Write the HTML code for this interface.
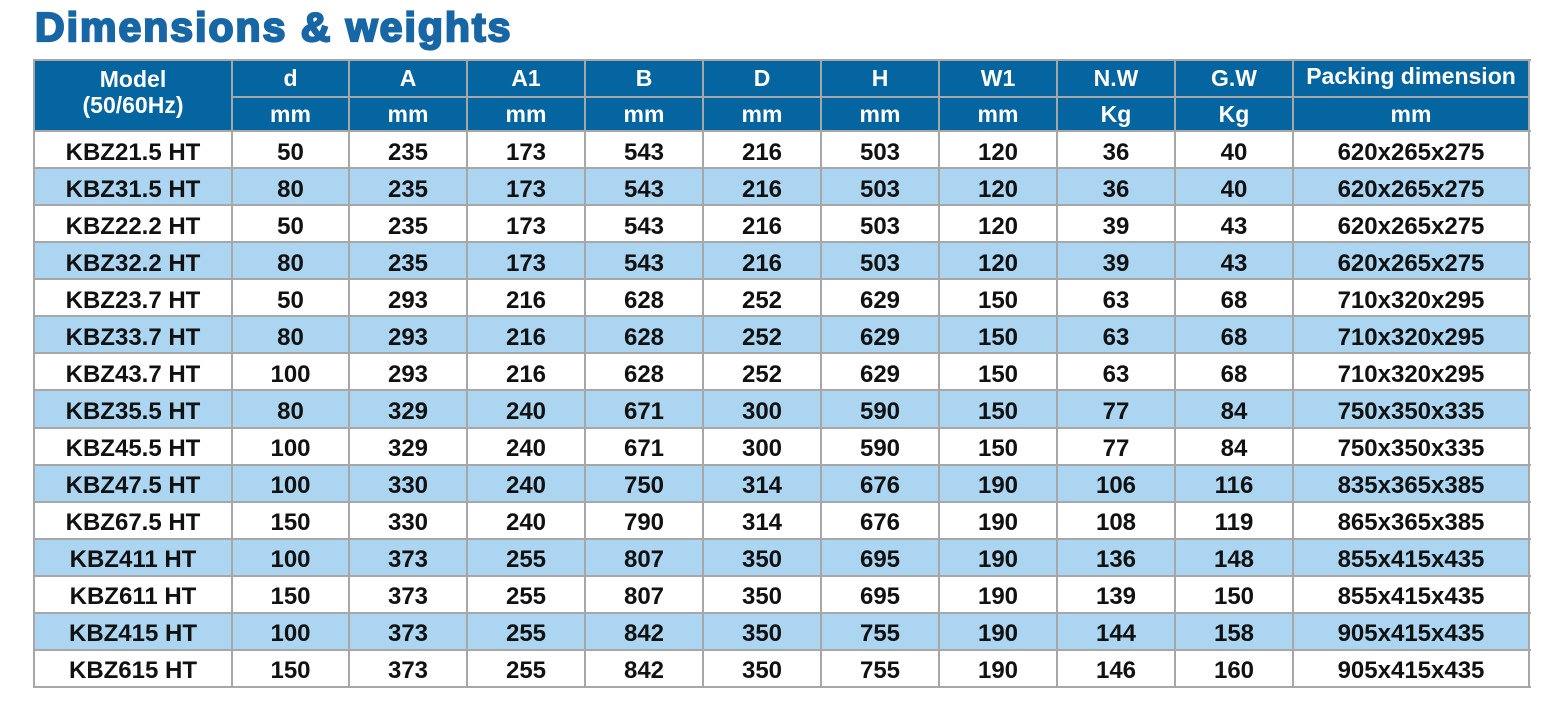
<!DOCTYPE html>
<html><head><meta charset="utf-8">
<style>
html,body{margin:0;padding:0;background:#fff;}
body{width:1551px;height:710px;position:relative;overflow:hidden;font-family:"Liberation Sans",Arial,sans-serif;}
.title{position:absolute;left:35px;top:7px;font-size:41px;line-height:41px;font-weight:bold;color:#1766a6;letter-spacing:2.0px;-webkit-text-stroke:2.2px #1766a6;white-space:nowrap;}
.bg{position:absolute;}
.hl{position:absolute;height:2px;background:#a7a7a7;}
.vl{position:absolute;width:2px;background:#a7a7a7;}
.r{position:absolute;left:34px;width:1495px;display:flex;}
.r span{display:block;text-align:center;font-weight:bold;white-space:nowrap;}
.d{height:37px;line-height:37px;font-size:24px;color:#111;}
.d span{position:relative;top:2.5px;}
.h{color:#fff;font-size:23px;}
.c0{width:198px}.c1{width:117px}.c{width:118px}.cp{width:236px}
</style></head><body>
<div class="title">Dimensions &amp; weights</div>

<!-- backgrounds -->
<div class="bg" style="left:34px;top:60px;width:1495px;height:71px;background:#0565a1;"></div>
<div class="bg" style="left:34px;top:168.07px;width:1495px;height:37.07px;background:#abd5f0;"></div>
<div class="bg" style="left:34px;top:242.21px;width:1495px;height:37.07px;background:#abd5f0;"></div>
<div class="bg" style="left:34px;top:316.35px;width:1495px;height:37.07px;background:#abd5f0;"></div>
<div class="bg" style="left:34px;top:390.49px;width:1495px;height:37.07px;background:#abd5f0;"></div>
<div class="bg" style="left:34px;top:464.63px;width:1495px;height:37.07px;background:#abd5f0;"></div>
<div class="bg" style="left:34px;top:538.77px;width:1495px;height:37.07px;background:#abd5f0;"></div>
<div class="bg" style="left:34px;top:612.91px;width:1495px;height:37.07px;background:#abd5f0;"></div>

<!-- header text -->
<div class="r h" style="top:60px;height:37px;line-height:37px;">
<span class="c0"></span><span class="c1">d</span><span class="c">A</span><span class="c">A1</span><span class="c">B</span><span class="c">D</span><span class="c">H</span><span class="c">W1</span><span class="c">N.W</span><span class="c">G.W</span><span class="cp" style="position:relative;top:-2px;">Packing dimension</span>
</div>
<div class="r h" style="top:97px;height:34px;line-height:34px;">
<span class="c0"></span><span class="c1">mm</span><span class="c">mm</span><span class="c">mm</span><span class="c">mm</span><span class="c">mm</span><span class="c">mm</span><span class="c">mm</span><span class="c">Kg</span><span class="c">Kg</span><span class="cp">mm</span>
</div>
<div class="r h" style="top:64px;height:30px;line-height:30px;"><span class="c0">Model</span></div>
<div class="r h" style="top:90px;height:30px;line-height:30px;"><span class="c0">(50/60Hz)</span></div>

<!-- data rows -->
<div class="r d" style="top:131px"><span class="c0">KBZ21.5 HT</span><span class="c1">50</span><span class="c">235</span><span class="c">173</span><span class="c">543</span><span class="c">216</span><span class="c">503</span><span class="c">120</span><span class="c">36</span><span class="c">40</span><span class="cp">620x265x275</span></div>
<div class="r d" style="top:168.07px"><span class="c0">KBZ31.5 HT</span><span class="c1">80</span><span class="c">235</span><span class="c">173</span><span class="c">543</span><span class="c">216</span><span class="c">503</span><span class="c">120</span><span class="c">36</span><span class="c">40</span><span class="cp">620x265x275</span></div>
<div class="r d" style="top:205.14px"><span class="c0">KBZ22.2 HT</span><span class="c1">50</span><span class="c">235</span><span class="c">173</span><span class="c">543</span><span class="c">216</span><span class="c">503</span><span class="c">120</span><span class="c">39</span><span class="c">43</span><span class="cp">620x265x275</span></div>
<div class="r d" style="top:242.21px"><span class="c0">KBZ32.2 HT</span><span class="c1">80</span><span class="c">235</span><span class="c">173</span><span class="c">543</span><span class="c">216</span><span class="c">503</span><span class="c">120</span><span class="c">39</span><span class="c">43</span><span class="cp">620x265x275</span></div>
<div class="r d" style="top:279.28px"><span class="c0">KBZ23.7 HT</span><span class="c1">50</span><span class="c">293</span><span class="c">216</span><span class="c">628</span><span class="c">252</span><span class="c">629</span><span class="c">150</span><span class="c">63</span><span class="c">68</span><span class="cp">710x320x295</span></div>
<div class="r d" style="top:316.35px"><span class="c0">KBZ33.7 HT</span><span class="c1">80</span><span class="c">293</span><span class="c">216</span><span class="c">628</span><span class="c">252</span><span class="c">629</span><span class="c">150</span><span class="c">63</span><span class="c">68</span><span class="cp">710x320x295</span></div>
<div class="r d" style="top:353.42px"><span class="c0">KBZ43.7 HT</span><span class="c1">100</span><span class="c">293</span><span class="c">216</span><span class="c">628</span><span class="c">252</span><span class="c">629</span><span class="c">150</span><span class="c">63</span><span class="c">68</span><span class="cp">710x320x295</span></div>
<div class="r d" style="top:390.49px"><span class="c0">KBZ35.5 HT</span><span class="c1">80</span><span class="c">329</span><span class="c">240</span><span class="c">671</span><span class="c">300</span><span class="c">590</span><span class="c">150</span><span class="c">77</span><span class="c">84</span><span class="cp">750x350x335</span></div>
<div class="r d" style="top:427.56px"><span class="c0">KBZ45.5 HT</span><span class="c1">100</span><span class="c">329</span><span class="c">240</span><span class="c">671</span><span class="c">300</span><span class="c">590</span><span class="c">150</span><span class="c">77</span><span class="c">84</span><span class="cp">750x350x335</span></div>
<div class="r d" style="top:464.63px"><span class="c0">KBZ47.5 HT</span><span class="c1">100</span><span class="c">330</span><span class="c">240</span><span class="c">750</span><span class="c">314</span><span class="c">676</span><span class="c">190</span><span class="c">106</span><span class="c">116</span><span class="cp">835x365x385</span></div>
<div class="r d" style="top:501.7px"><span class="c0">KBZ67.5 HT</span><span class="c1">150</span><span class="c">330</span><span class="c">240</span><span class="c">790</span><span class="c">314</span><span class="c">676</span><span class="c">190</span><span class="c">108</span><span class="c">119</span><span class="cp">865x365x385</span></div>
<div class="r d" style="top:538.77px"><span class="c0">KBZ411 HT</span><span class="c1">100</span><span class="c">373</span><span class="c">255</span><span class="c">807</span><span class="c">350</span><span class="c">695</span><span class="c">190</span><span class="c">136</span><span class="c">148</span><span class="cp">855x415x435</span></div>
<div class="r d" style="top:575.84px"><span class="c0">KBZ611 HT</span><span class="c1">150</span><span class="c">373</span><span class="c">255</span><span class="c">807</span><span class="c">350</span><span class="c">695</span><span class="c">190</span><span class="c">139</span><span class="c">150</span><span class="cp">855x415x435</span></div>
<div class="r d" style="top:612.91px"><span class="c0">KBZ415 HT</span><span class="c1">100</span><span class="c">373</span><span class="c">255</span><span class="c">842</span><span class="c">350</span><span class="c">755</span><span class="c">190</span><span class="c">144</span><span class="c">158</span><span class="cp">905x415x435</span></div>
<div class="r d" style="top:649.98px"><span class="c0">KBZ615 HT</span><span class="c1">150</span><span class="c">373</span><span class="c">255</span><span class="c">842</span><span class="c">350</span><span class="c">755</span><span class="c">190</span><span class="c">146</span><span class="c">160</span><span class="cp">905x415x435</span></div>

<!-- horizontal lines -->
<div class="hl" style="left:34px;width:1497px;top:59px"></div>
<div class="hl" style="left:232px;width:1297px;top:96px"></div>
<div class="hl" style="left:34px;width:1497px;top:130px"></div>
<div class="hl" style="left:34px;width:1497px;top:167px"></div>
<div class="hl" style="left:34px;width:1497px;top:204px"></div>
<div class="hl" style="left:34px;width:1497px;top:241px"></div>
<div class="hl" style="left:34px;width:1497px;top:278px"></div>
<div class="hl" style="left:34px;width:1497px;top:315px"></div>
<div class="hl" style="left:34px;width:1497px;top:352px"></div>
<div class="hl" style="left:34px;width:1497px;top:389px"></div>
<div class="hl" style="left:34px;width:1497px;top:427px"></div>
<div class="hl" style="left:34px;width:1497px;top:464px"></div>
<div class="hl" style="left:34px;width:1497px;top:501px"></div>
<div class="hl" style="left:34px;width:1497px;top:538px"></div>
<div class="hl" style="left:34px;width:1497px;top:575px"></div>
<div class="hl" style="left:34px;width:1497px;top:612px"></div>
<div class="hl" style="left:34px;width:1497px;top:649px"></div>
<div class="hl" style="left:34px;width:1497px;top:686px"></div>

<!-- vertical lines -->
<div class="vl" style="left:33px;top:59px;height:629px"></div>
<div class="vl" style="left:231px;top:59px;height:629px"></div>
<div class="vl" style="left:348px;top:59px;height:629px"></div>
<div class="vl" style="left:466px;top:59px;height:629px"></div>
<div class="vl" style="left:584px;top:59px;height:629px"></div>
<div class="vl" style="left:702px;top:59px;height:629px"></div>
<div class="vl" style="left:820px;top:59px;height:629px"></div>
<div class="vl" style="left:938px;top:59px;height:629px"></div>
<div class="vl" style="left:1056px;top:59px;height:629px"></div>
<div class="vl" style="left:1174px;top:59px;height:629px"></div>
<div class="vl" style="left:1292px;top:59px;height:629px"></div>
<div class="vl" style="left:1528px;top:59px;height:629px"></div>
</body></html>
